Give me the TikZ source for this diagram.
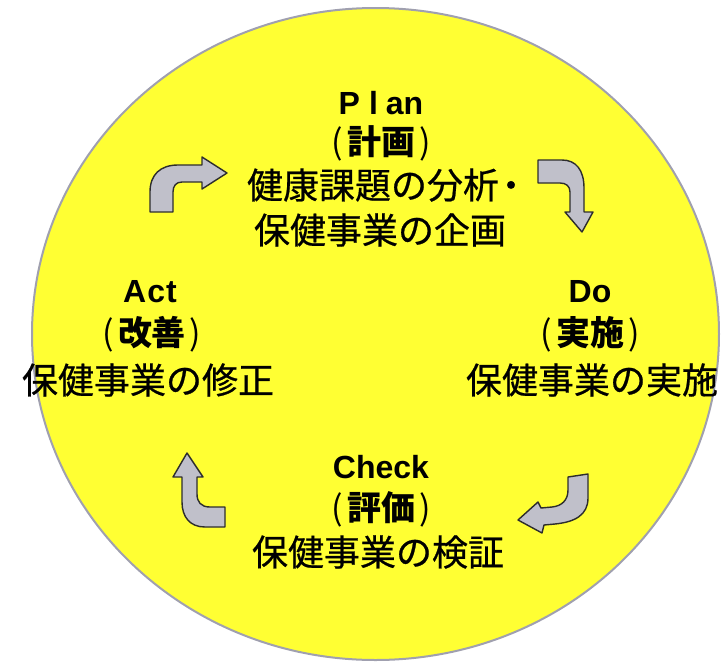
\documentclass[tikz,border=0pt]{standalone}
\usepackage{fontspec}
\setmainfont{Liberation Sans}
\newfontfamily\jp[FakeBold=0.6]{Noto Sans CJK JP}
\newfontfamily\jpb{Noto Sans CJK JP}
\newcommand{\lp}{{\mdseries(}\kern4pt}
\newcommand{\rp}{\kern4pt{\mdseries)}}
\definecolor{bgyellow}{RGB}{255,255,51}
\definecolor{rimgray}{RGB}{160,160,175}
\definecolor{arrowfill}{RGB}{192,192,202}
\definecolor{arrowline}{RGB}{45,45,45}
\tikzset{
  lat/.style={inner sep=0pt, font=\bfseries\fontsize{32}{32}\selectfont},
  paren/.style={inner sep=0pt, font=\jpb\bfseries\fontsize{34}{34}\selectfont},
  jtxt/.style={inner sep=0pt, font=\jp\fontsize{36}{36}\selectfont},
  bendarrow/.style={fill=arrowfill, draw=arrowline, line width=1.4pt, line join=round}
}
\begin{document}
\begin{tikzpicture}[x=1pt,y=-1pt]
\useasboundingbox (0,0) rectangle (724,665);
% big disc
\path[fill=bgyellow, draw=rimgray, line width=2pt] (375.5,334) ellipse [x radius=343.5, y radius=326];

% Plan
\node[lat] (plan) at (381,103) {P\kern9pt l\kern8pt an};
\node[paren] (planjp) at (381,143) {\lp 計画\rp};
\node[jtxt] (plan1) at (388,185) {健康課題の分析\kern-6pt ・};
\node[jtxt] (plan2) at (380,230) {保健事業の企画};

% Do
\node[lat] (do) at (590,292) {Do};
\node[paren] (dojp) at (590,334) {\lp 実施\rp};
\node[jtxt] (do1) at (592,380) {保健事業の実施};

% Check
\node[lat] (check) at (381,467) {Check};
\node[paren] (checkjp) at (381,509) {\lp 評価\rp};
\node[jtxt] (check1) at (378,552) {保健事業の検証};

% Act
\node[lat] (act) at (150,292) {A\kern1pt c\kern1pt t};
\node[paren] (actjp) at (152,334) {\lp 改善\rp};
\node[jtxt] (act1) at (148,380) {保健事業の修正};

% bent arrows
\draw[bendarrow] (150,212) -- (150,192) .. controls (150,175) and (160,165) .. (178,165)
  -- (202,165) -- (202,157) -- (227,173) -- (202,189) -- (202,182) -- (182,182)
  .. controls (176,182) and (173,186) .. (173,192) -- (173,212) -- cycle;
\draw[bendarrow] (538,160) -- (562,160) .. controls (576,160) and (584,170) .. (584,188)
  -- (584,212) -- (593,212) -- (582,232) -- (565,212) -- (570,212) -- (570,192)
  .. controls (570,186) and (566,183) .. (560,183) -- (538,183) -- cycle;
\draw[bendarrow] (568,477) -- (588,474) -- (588,498) .. controls (588,515) and (575,522) .. (555,524)
  -- (544,525) -- (542,533) -- (518,520) -- (538,502) -- (541,508) -- (552,507)
  .. controls (562,506) and (568,500) .. (568,490) -- cycle;
\draw[bendarrow] (187,453) -- (203,477) -- (197,477) -- (197,494)
  .. controls (197,502) and (201,507) .. (210,507) -- (225,507) -- (225,527) -- (205,527)
  .. controls (190,527) and (182,517) .. (182,502) -- (182,477) -- (173,477) -- cycle;
\end{tikzpicture}
\end{document}
